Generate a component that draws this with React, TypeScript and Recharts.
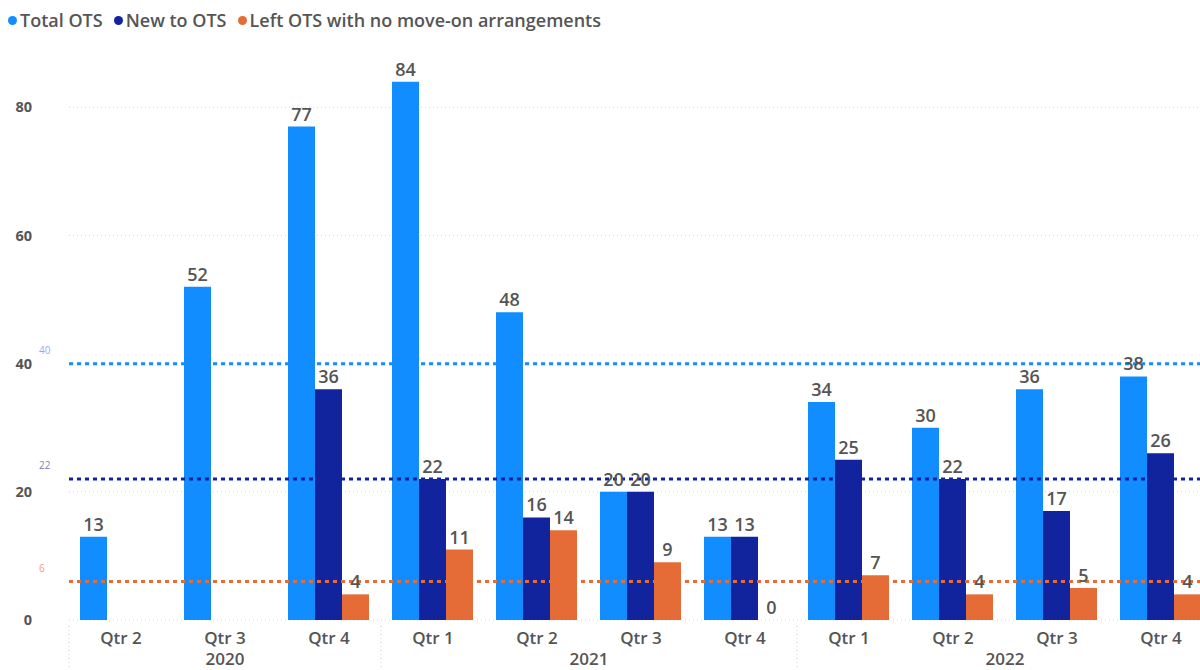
import React from 'react';
import { BarChart, Bar, XAxis, YAxis, CartesianGrid, LabelList, ReferenceLine } from 'recharts';

const quarters = ['Qtr 2', 'Qtr 3', 'Qtr 4', 'Qtr 1', 'Qtr 2', 'Qtr 3', 'Qtr 4', 'Qtr 1', 'Qtr 2', 'Qtr 3', 'Qtr 4'];
const years = ['2020', '2020', '2020', '2021', '2021', '2021', '2021', '2022', '2022', '2022', '2022'];
const totalOts = [13, 52, 77, 84, 48, 20, 13, 34, 30, 36, 38];
const newToOts = [null, null, 36, 22, 16, 20, 13, 25, 22, 17, 26];
const leftNoMoveOn = [null, null, 4, 11, 14, 9, 0, 7, 4, 5, 4];
const yTicks = [0, 20, 40, 60, 80];
const refTotal = 40;
const refNew = 22;
const refLeft = 6;

const data = quarters.map((q, i) => ({
    key: `${years[i]}-${q}`,
    qtr: q,
    year: years[i],
    total: totalOts[i],
    newOts: newToOts[i],
    left: leftNoMoveOn[i],
}));

const colors = {
    total: '#118DFF',
    newOts: '#12239E',
    left: '#E66C37',
};

const FONT = '"Open Sans", "Noto Sans", sans-serif';
const TEXT = '#555555';

const CHART_W = 1220;
const CHART_H = 670;
const Y_W = 69;
const M_RIGHT = 7;
const BAND = (CHART_W - Y_W - M_RIGHT) / quarters.length;

// quarter label on every tick, year label centred under its quarters, dotted divider at each year start
const QuarterTick = ({ x, y, index }: any) => {
    const i = index;
    const yr = years[i];
    const first = i === 0 || years[i - 1] !== yr;
    const members = years.filter(v => v === yr).length;
    const startIdx = years.indexOf(yr);
    const mid = startIdx + (members - 1) / 2;
    const showYear = Math.floor(mid) === i;
    const yearX = x + (mid - i) * BAND;
    return (
        <g>
            {first && (
                <line x1={x - BAND / 2} x2={x - BAND / 2} y1={y - 2} y2={y + 60} stroke="#d0d0d0" strokeDasharray="1 3" />
            )}
            <text x={x} y={y + 16} textAnchor="middle" fill={TEXT} fontSize={17} fontWeight={600} fontFamily={FONT}>
                {quarters[i]}
            </text>
            {showYear && (
                <text x={yearX} y={y + 37} textAnchor="middle" fill={TEXT} fontSize={17} fontWeight={600} fontFamily={FONT}>
                    {yr}
                </text>
            )}
        </g>
    );
};

const RefLabel = ({ viewBox, value, fill }: any) => {
    if (!viewBox) return null;
    return (
        <text x={viewBox.x - 30} y={viewBox.y - 10} fill={fill} fontSize={10} fontFamily={FONT}>
            {value}
        </text>
    );
};

const Legend = () => {
    const items = [
        { name: 'Total OTS', color: colors.total },
        { name: 'New to OTS', color: colors.newOts },
        { name: 'Left OTS with no move-on arrangements', color: colors.left },
    ];
    return (
        <div style={{ position: 'absolute', left: 8, top: 8, display: 'flex', gap: 11, fontFamily: FONT, fontSize: 18, fontWeight: 600, color: TEXT, zIndex: 2 }}>
            {items.map(it => (
                <div key={it.name} style={{ display: 'flex', alignItems: 'center', gap: 3 }}>
                    <span style={{ width: 9, height: 9, borderRadius: '50%', background: it.color, display: 'inline-block' }} />
                    <span>{it.name}</span>
                </div>
            ))}
        </div>
    );
};

export default function App() {
    const labelStyle = { fill: TEXT, fontSize: 18, fontWeight: 600, fontFamily: FONT };
    return (
        <div style={{ position: 'fixed', left: 0, top: 0, width: 1200, height: 670, overflow: 'hidden', background: '#fff' }}>
            <Legend />
            <BarChart
                width={CHART_W}
                height={CHART_H}
                data={data}
                margin={{ top: 56, right: M_RIGHT, bottom: 0, left: 0 }}
                barCategoryGap={11}
                barGap={0}
            >
                <CartesianGrid vertical={false} horizontalValues={yTicks} stroke="#d4d4d4" strokeDasharray="1 3" />
                <XAxis
                    dataKey="key"
                    height={50}
                    axisLine={false}
                    tickLine={false}
                    interval={0}
                    tick={<QuarterTick />}
                />
                <YAxis
                    width={Y_W}
                    domain={[0, 88]}
                    ticks={yTicks}
                    axisLine={false}
                    tickLine={false}
                    tickSize={0}
                    tickMargin={37}
                    tick={{ fill: TEXT, fontSize: 14.5, fontWeight: 700, fontFamily: FONT }}
                />
                <Bar dataKey="total" name="Total OTS" fill={colors.total} isAnimationActive={false}>
                    <LabelList dataKey="total" position="top" offset={6} style={labelStyle} />
                </Bar>
                <Bar dataKey="newOts" name="New to OTS" fill={colors.newOts} isAnimationActive={false}>
                    <LabelList dataKey="newOts" position="top" offset={6} style={labelStyle} />
                </Bar>
                <Bar
                    dataKey="left"
                    name="Left OTS with no move-on arrangements"
                    fill={colors.left}
                    isAnimationActive={false}
                    minPointSize={(value: any) => (value === 0 ? 0.01 : 0)}
                >
                    <LabelList dataKey="left" position="top" offset={6} style={labelStyle} />
                </Bar>
                <ReferenceLine y={refTotal} stroke={colors.total} strokeWidth={3} strokeDasharray="4 4" label={<RefLabel value={refTotal} fill="#8fa8ff" />} />
                <ReferenceLine y={refNew} stroke={colors.newOts} strokeWidth={3} strokeDasharray="4 4" label={<RefLabel value={refNew} fill="#7f7fc0" />} />
                <ReferenceLine y={refLeft} stroke={colors.left} strokeWidth={3} strokeDasharray="4 4" label={<RefLabel value={refLeft} fill="#f0a080" />} />
            </BarChart>
        </div>
    );
}
